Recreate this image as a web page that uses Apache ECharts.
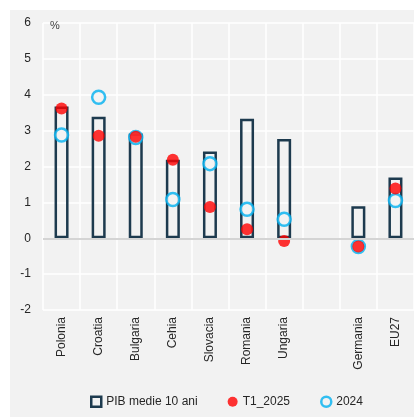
<!DOCTYPE html>
<html>
<head>
<meta charset="utf-8">
<script src="https://cdn.jsdelivr.net/npm/echarts@6/dist/echarts.min.js"></script>
<style>
  html, body { margin: 0; padding: 0; background: #fff; }
  #chart { width: 414px; height: 417px; }
</style>
</head>
<body>
<div id="chart"></div>
<script>
// Countries (empty slot separates the EU group)
const categories = ['Polonia', 'Croatia', 'Bulgaria', 'Cehia', 'Slovacia', 'Romania', 'Ungaria', '', 'Germania', 'EU27'];
// 10-year average GDP growth, %
const pibMedie10 = [3.67, 3.39, 2.92, 2.19, 2.42, 3.33, 2.77, null, 0.89, 1.69];
// Q1 2025 growth, %
const t1_2025 = [3.62, 2.86, 2.83, 2.19, 0.87, 0.25, -0.08, null, -0.23, 1.39];
// 2024 growth, %
const an2024 = [2.88, 3.93, 2.81, 1.08, 2.08, 0.81, 0.53, null, -0.23, 1.05];
const yTicks = [-2, -1, 0, 1, 2, 3, 4, 5, 6];

const font = 'Liberation Sans, Arial, sans-serif';
const chart = echarts.init(document.getElementById('chart'), null, { renderer: 'canvas' });

chart.setOption({
  backgroundColor: '#ffffff',
  animation: false,
  textStyle: { fontFamily: font },
  graphic: [
    { type: 'rect', left: 10, top: 10, z: -10, shape: { width: 404, height: 407 }, style: { fill: '#f2f2f2' } },
    { type: 'text', left: 50, top: 20, z: 10, style: { text: '%', font: '11px ' + font, fill: '#404040' } }
  ],
  grid: { left: 43, right: 0, top: 23, bottom: 107, containLabel: false },
  legend: {
    bottom: 4,
    left: 85,
    itemGap: 30,
    itemWidth: 10,
    itemHeight: 10,
    textStyle: { fontSize: 12, color: '#262626', fontFamily: font },
    data: [
      { name: 'PIB medie 10 ani', icon: 'rect', itemStyle: { color: 'transparent', borderColor: '#1d3a4e', borderWidth: 2.5 } },
      { name: 'T1_2025', icon: 'circle', itemStyle: { color: '#ff0000' } },
      { name: '2024', icon: 'circle', itemStyle: { color: 'transparent', borderColor: '#00b0f0', borderWidth: 2.5 } }
    ]
  },
  xAxis: {
    type: 'category',
    data: categories,
    axisLine: { show: false },
    axisTick: { show: false },
    axisLabel: { rotate: 90, margin: 7, color: '#262626', fontSize: 12, fontFamily: font },
    splitLine: { show: true, lineStyle: { color: '#ffffff', width: 1.5 } }
  },
  yAxis: {
    type: 'value',
    min: -2,
    max: 6,
    interval: 1,
    axisLine: { show: false },
    axisTick: { show: false },
    axisLabel: { color: '#262626', fontSize: 12, margin: 12, fontFamily: font,
      formatter: v => yTicks.includes(v) ? String(v) : '' },
    splitLine: { show: true, lineStyle: { color: '#ffffff', width: 1.5 } }
  },
  series: [
    {
      name: 'PIB medie 10 ani',
      type: 'bar',
      data: pibMedie10,
      barWidth: 14,
      itemStyle: { color: 'transparent', borderColor: '#1d3a4e', borderWidth: 2.5 },
      z: 2,
      markLine: {
        silent: true,
        symbol: 'none',
        label: { show: false },
        lineStyle: { color: '#d4d4d4', width: 2, type: 'solid' },
        data: [{ yAxis: 0 }]
      }
    },
    {
      name: '2024',
      type: 'scatter',
      data: an2024,
      symbol: 'circle',
      symbolSize: 13,
      itemStyle: { color: '#f2f2f2', borderColor: '#00b0f0', borderWidth: 2.5 },
      z: 3
    },
    {
      name: 'T1_2025',
      type: 'scatter',
      data: t1_2025,
      symbol: 'circle',
      symbolSize: 12,
      itemStyle: { color: '#ff0000' },
      z: 4
    }
  ]
});
</script>
</body>
</html>
